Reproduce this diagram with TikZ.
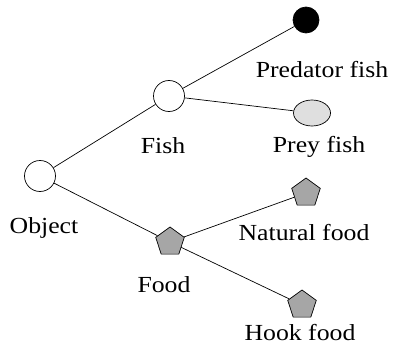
\documentclass[tikz,border=0pt]{standalone}
\usepackage{fontspec}
\setmainfont{Liberation Serif}
\usetikzlibrary{shapes.geometric}
\tikzset{
  ball/.style={shape=circle, draw=black, fill=white, minimum size=31pt, inner sep=0pt},
  pent/.style={shape=regular polygon, regular polygon sides=5, draw=black, fill=gray!70, minimum size=30pt, inner sep=0pt},
  lbl/.style={font=\fontsize{23}{27}\selectfont, xscale=1.12, transform shape, inner sep=0pt}
}

\begin{document}
\begin{tikzpicture}[x=1pt, y=1pt, line width=0.7pt]
    \useasboundingbox (0,0) rectangle (393,346);
    \node[ball] (O) at (40, 170) {};
    \node[ball] (F) at (169, 250) {};
    \node[ball, fill=black, minimum size=26pt] (P) at (306, 326) {};
    \node[ellipse, draw=black, fill=gray!25, minimum width=37pt, minimum height=26pt, inner sep=0pt] (R) at (312, 233) {};
    \node[pent] (D) at (170, 104) {};
    \node[pent] (N) at (306, 153) {};
    \node[pent] (H) at (302, 41) {};
    \node[lbl] (Ot) at (44, 118) {Object};
    \node[lbl] (Ft) at (163, 200) {Fish};
    \node[lbl] (Pt) at (322, 276) {Predator fish};
    \node[lbl] (Rt) at (319, 199) {Prey fish};
    \node[lbl] (Dt) at (164, 61) {Food};
    \node[lbl] (Nt) at (304, 113) {Natural food};
    \node[lbl] (Ht) at (300, 13) {Hook food};
    \path[-] (O) edge (F);
    \path[-] (O) edge (D);
    \path[-] (F) edge (P);
    \path[-] (F) edge (R);
    \path[-] (D) edge (N);
    \path[-] (D) edge (H);
  \end{tikzpicture}
\end{document}
